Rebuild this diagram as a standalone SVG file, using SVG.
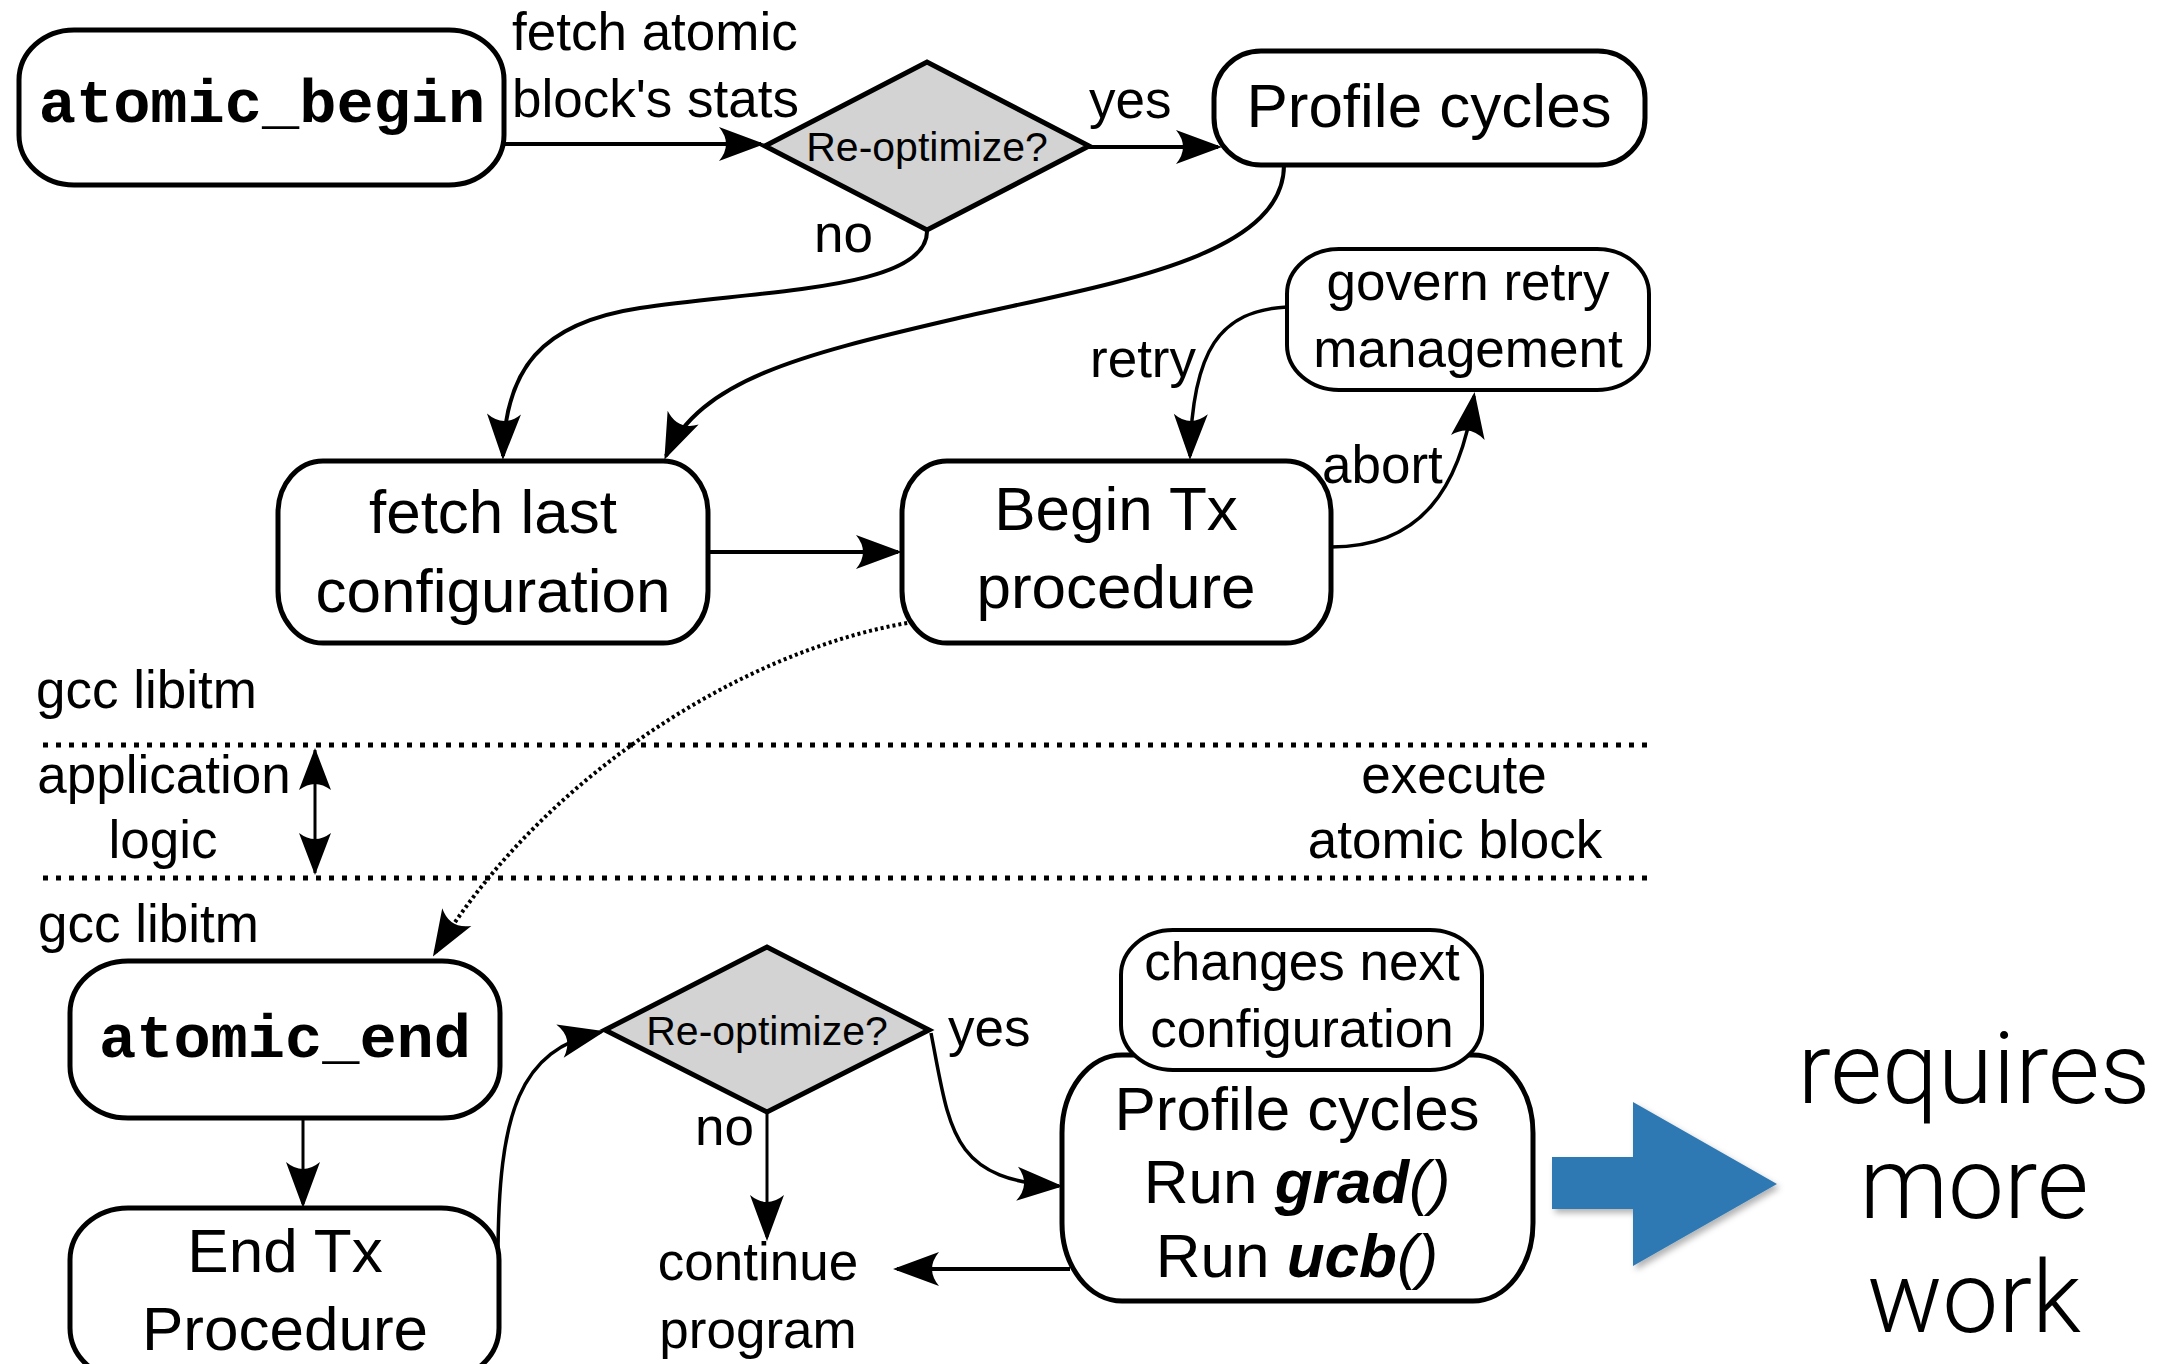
<svg xmlns="http://www.w3.org/2000/svg" width="2170" height="1364" viewBox="0 0 2170 1364">
<style>
.box{fill:#fff;stroke:#000;stroke-width:5}
.box2{fill:#fff;stroke:#000;stroke-width:4}
.dia{fill:#d3d3d3;stroke:#000;stroke-width:5;stroke-linejoin:miter}
.t62{font-family:"Liberation Sans",Arial,sans-serif;font-size:62px;text-anchor:middle}
.t53{font-family:"Liberation Sans",Arial,sans-serif;font-size:53px}
.mid{text-anchor:middle}
.t41{font-family:"Liberation Sans",Arial,sans-serif;font-size:41px;text-anchor:middle}
.mono{font-family:"Liberation Mono","Courier New",monospace;font-weight:bold;font-size:62px;text-anchor:middle}
.con{fill:none;stroke:#000;stroke-width:4;marker-end:url(#ah)}
.thin{fill:none;stroke:#000;stroke-width:3}
.dotline{fill:none;stroke:#000;stroke-width:5;stroke-dasharray:5 8}
.big{font-family:Roboto,"Open Sans","Liberation Sans",sans-serif;font-weight:300;font-size:100px;text-anchor:middle}
</style>
<defs>
<marker id="ah" markerUnits="userSpaceOnUse" orient="auto" refX="0" refY="0" markerWidth="60" markerHeight="60" viewBox="-50 -25 60 50" overflow="visible">
<path d="M4,0 L-42,-17 Q-28,0 -42,17 Z" fill="#000"/>
</marker>
<marker id="ah2" markerUnits="userSpaceOnUse" orient="auto-start-reverse" refX="0" refY="0" markerWidth="60" markerHeight="60" viewBox="-50 -25 60 50" overflow="visible">
<path d="M2,0 L-40,-16 Q-28,0 -40,16 Z" fill="#000"/>
</marker>
<filter id="sh" x="-20%" y="-20%" width="140%" height="140%">
<feDropShadow dx="3" dy="4" stdDeviation="3" flood-color="#000" flood-opacity="0.3"/>
</filter>
</defs>

<g id="separators">
<line class="dotline" x1="43" y1="745" x2="1654" y2="745"/>
<line class="dotline" x1="43" y1="878" x2="1654" y2="878"/>
</g>

<g id="connectors">
<path class="con" d="M504,144 L761,144"/>
<path class="con" d="M1089,147 L1218,147"/>
<path class="con" d="M927,230 C930,290 760,290 640,308 C540,323 505,370 503,456"/>
<path class="con" d="M1284,165 C1284,260 1100,285 950,320 C800,355 700,380 666,456"/>
<path class="con" d="M709,552 L898,552"/>
<path class="con" style="stroke-width:3.5" d="M1287,307 C1220,310 1192,350 1190,456"/>
<path class="con" style="stroke-width:3.5" d="M1331,547 C1420,547 1460,490 1474,396"/>
<path fill="none" stroke="#000" stroke-width="4" stroke-dasharray="3 3" marker-end="url(#ah)" d="M913,622 C740,650 540,780 435,953"/>
<path class="thin" marker-start="url(#ah2)" marker-end="url(#ah2)" d="M315,750 L315,873"/>
<path class="con" style="stroke-width:3" d="M303,1118 L303,1204"/>
<path class="con" style="stroke-width:3.5" d="M498,1259 C498,1110 520,1050 601,1032"/>
<path class="con" style="stroke-width:3.5" d="M931,1033 C950,1130 950,1180 1059,1186"/>
<path class="con" style="stroke-width:3" d="M767,1113 L767,1237"/>
<path class="con" d="M1070,1269 L897,1269"/>
</g>

<g id="node-atomic-begin">
<rect class="box" x="19" y="30" width="485" height="155" rx="55" ry="50"/>
<text class="mono" x="262" y="122">atomic_begin</text>
</g>

<g id="node-reoptimize-1">
<polygon class="dia" points="765,146 927,62 1089,146 927,230"/>
<text class="t41" x="927" y="161">Re-optimize?</text>
</g>

<g id="node-profile-1">
<rect class="box" x="1214" y="51" width="431" height="114" rx="47" ry="47"/>
<text class="t62" x="1429" y="127">Profile cycles</text>
</g>

<g id="node-fetch-last">
<rect class="box" x="278" y="461" width="430" height="182" rx="45" ry="52"/>
<text class="t62" x="493" y="533">fetch last</text>
<text class="t62" x="493" y="612">configuration</text>
</g>

<g id="node-begin-tx">
<rect class="box" x="902" y="461" width="429" height="182" rx="45" ry="52"/>
<text class="t62" x="1116" y="530">Begin Tx</text>
<text class="t62" x="1116" y="608">procedure</text>
</g>

<g id="node-govern-retry">
<rect class="box2" x="1287" y="249" width="362" height="141" rx="52" ry="45"/>
<text class="t53 mid" x="1468" y="300">govern retry</text>
<text class="t53 mid" x="1468" y="367">management</text>
</g>

<g id="node-atomic-end">
<rect class="box" x="70" y="961" width="430" height="157" rx="58" ry="52"/>
<text class="mono" x="285" y="1057">atomic_end</text>
</g>

<g id="node-end-tx">
<rect class="box" x="70" y="1208" width="429" height="172" rx="58" ry="52"/>
<text class="t62" x="285" y="1272">End Tx</text>
<text class="t62" x="285" y="1350">Procedure</text>
</g>

<g id="node-reoptimize-2">
<polygon class="dia" points="605,1030 767,947 929,1030 767,1112"/>
<text class="t41" x="767" y="1045">Re-optimize?</text>
</g>

<g id="node-profile-2">
<rect class="box" x="1062" y="1055" width="471" height="246" rx="60" ry="78"/>
<text class="t62" x="1297" y="1130">Profile cycles</text>
<text class="t62" x="1297" y="1203">Run <tspan font-weight="bold" font-style="italic">grad</tspan><tspan font-style="italic">()</tspan></text>
<text class="t62" x="1297" y="1277">Run <tspan font-weight="bold" font-style="italic">ucb</tspan><tspan font-style="italic">()</tspan></text>
</g>

<g id="node-changes-next">
<rect class="box2" x="1121" y="930" width="361" height="140" rx="52" ry="45"/>
<text class="t53 mid" x="1302" y="980">changes next</text>
<text class="t53 mid" x="1302" y="1047">configuration</text>
</g>

<g id="node-continue">
<text class="t53 mid" x="758" y="1280">continue</text>
<text class="t53 mid" x="758" y="1348">program</text>
</g>

<g id="labels">
<text class="t53" x="512" y="50">fetch atomic</text>
<text class="t53" x="512" y="117">block's stats</text>
<text class="t53" x="1089" y="118">yes</text>
<text class="t53" x="814" y="252">no</text>
<text class="t53" x="1090" y="377">retry</text>
<text class="t53" x="1322" y="483">abort</text>
<text class="t53" x="36" y="708">gcc libitm</text>
<text class="t53 mid" x="164" y="793">application</text>
<text class="t53 mid" x="163" y="858">logic</text>
<text class="t53 mid" x="1454" y="793">execute</text>
<text class="t53 mid" x="1455" y="858">atomic block</text>
<text class="t53" x="38" y="942">gcc libitm</text>
<text class="t53" x="948" y="1046">yes</text>
<text class="t53" x="695" y="1145">no</text>
</g>

<g id="note-requires-more-work">
<path d="M1552,1157 L1633,1157 L1633,1102 L1777,1184 L1633,1266 L1633,1209 L1552,1209 Z" fill="#2f79b3" filter="url(#sh)"/>
<text class="big" x="1974" y="1103">requires</text>
<text class="big" x="1974" y="1218">more</text>
<text class="big" x="1974" y="1332">work</text>
</g>
</svg>
